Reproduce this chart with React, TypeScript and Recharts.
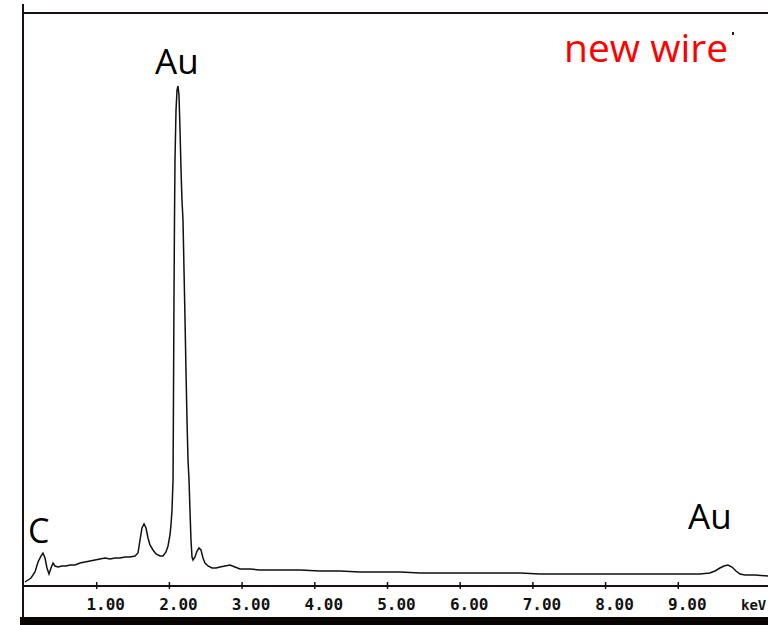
import React from "react";
import { LineChart, Line, XAxis, YAxis, Customized } from "recharts";

// Energy (keV) and intensity (arbitrary counts, main Au peak = 100)
const energyKeV = [
  0.014, 0.055, 0.096, 0.151, 0.193, 0.234, 0.261, 0.289, 0.316, 0.344, 0.371, 0.399, 0.426, 0.468,
  0.523, 0.578, 0.633, 0.702, 0.77, 0.839, 0.908, 0.977, 1.045, 1.114, 1.183, 1.252, 1.32, 1.389,
  1.458, 1.527, 1.568, 1.596, 1.623, 1.651, 1.678, 1.706, 1.733, 1.774, 1.816, 1.871, 1.912, 1.953,
  1.981, 2.008, 2.022, 2.036, 2.05, 2.056, 2.063, 2.07, 2.077, 2.091, 2.105, 2.118, 2.132, 2.146,
  2.16, 2.173, 2.187, 2.201, 2.215, 2.228, 2.242, 2.256, 2.27, 2.283, 2.297, 2.311, 2.325, 2.352,
  2.38, 2.407, 2.435, 2.462, 2.49, 2.531, 2.586, 2.641, 2.696, 2.765, 2.834, 2.902, 2.971, 3.109,
  3.246, 3.521, 3.796, 4.072, 4.347, 4.622, 4.897, 5.172, 5.447, 5.722, 5.997, 6.272, 6.548, 6.823,
  7.098, 7.373, 7.648, 7.923, 8.198, 8.473, 8.748, 9.023, 9.298, 9.433, 9.505, 9.573, 9.628, 9.683,
  9.739, 9.794, 9.849, 9.917, 10.055, 10.234,
];
const counts = [
  0.8, 1.2, 1.6, 2.8, 4.8, 6.0, 6.6, 5.6, 3.6, 2.4, 3.6, 4.6, 4.0, 3.8,
  4.0, 4.0, 4.2, 4.2, 4.6, 4.8, 5.0, 5.2, 5.4, 5.6, 5.4, 5.6, 5.6, 5.8,
  5.8, 6.0, 6.6, 9.2, 11.6, 12.4, 11.6, 9.6, 8.2, 7.2, 6.4, 6.0, 6.0, 6.8,
  8.0, 10.2, 12.2, 15.2, 21.2, 37.2, 57.2, 73.2, 85.2, 95.2, 99.2, 100, 98.2, 91.2,
  83.2, 77.2, 73.2, 63.2, 53.2, 43.2, 33.2, 25.2, 21.2, 15.2, 9.2, 5.8, 5.2, 5.8,
  7.0, 7.6, 7.2, 5.6, 4.6, 4.0, 3.6, 3.6, 3.8, 4.0, 4.2, 3.8, 3.4, 3.4,
  3.2, 3.2, 3.2, 3.0, 3.0, 2.8, 2.8, 2.8, 2.6, 2.6, 2.6, 2.6, 2.6, 2.6,
  2.4, 2.4, 2.4, 2.4, 2.4, 2.4, 2.4, 2.4, 2.4, 2.6, 3.0, 3.6, 4.0, 4.2,
  3.8, 3.0, 2.4, 2.2, 2.2, 2.0,
];
const tickValues = [1, 2, 3, 4, 5, 6, 7, 8, 9, 10];
const tickLabels = ["1.00", "2.00", "3.00", "4.00", "5.00", "6.00", "7.00", "8.00", "9.00", "keV"];

const data = energyKeV.map((e, i) => ({ e, c: counts[i] }));

const Tick = (props: any) => {
  const { x, y, payload } = props;
  const idx = tickValues.indexOf(payload.value);
  const label = tickLabels[idx];
  const textStyle = {
    fontFamily: "'DejaVu Sans Mono', monospace",
    fontWeight: 700,
    fontSize: 16,
    fill: "#111",
  };
  if (label === "keV") {
    return (
      <text x={x - 10} y={y + 24} textAnchor="start" style={{ ...textStyle, fontSize: 14 }}>
        {label}
      </text>
    );
  }
  return (
    <g>
      <line x1={x} x2={x} y1={y - 4} y2={y + 3} stroke="#111" strokeWidth={1.5} />
      <text x={x + 9} y={y + 24} textAnchor="middle" style={textStyle}>
        {label}
      </text>
    </g>
  );
};

const Overlay = () => {
  const font = "'Open Sans', 'Noto Sans', sans-serif";
  return (
    <g>
      <line x1={23} x2={23} y1={4} y2={620} stroke="#1a1010" strokeWidth={2} />
      <line x1={23} x2={768} y1={13} y2={13} stroke="#1a1010" strokeWidth={2} />
      <rect x={20} y={617} width={748} height={8} fill="#0a0505" />
      <text x={155} y={74} style={{ fontFamily: font, fontSize: 35, fill: "#000" }}>Au</text>
      <text x={28} y={543} style={{ fontFamily: font, fontSize: 34, fill: "#000" }}>C</text>
      <text x={688} y={529} style={{ fontFamily: font, fontSize: 35, fill: "#000" }}>Au</text>
      <text x={564} y={62} style={{ fontFamily: font, fontSize: 39, fill: "#ff0000" }}>new wire</text>
      <rect x={732} y={32} width={2} height={3} fill="#222" />
    </g>
  );
};

export default function App() {
  return (
    <div style={{ position: "absolute", left: 0, top: 0, width: 768, height: 625, background: "#fff" }}>
      <LineChart
        width={768}
        height={625}
        data={data}
        margin={{ top: 36, right: 0, bottom: 9, left: 24 }}
      >
        <XAxis
          dataKey="e"
          type="number"
          domain={[0, 10.234]}
          ticks={tickValues}
          interval={0}
          height={30}
          tickLine={false}
          tickSize={0}
          tickMargin={0}
          axisLine={{ stroke: "#1a1010", strokeWidth: 2 }}
          tick={<Tick />}
          allowDataOverflow
        />
        <YAxis hide domain={[0, 110]} type="number" allowDataOverflow />
        <Line
          dataKey="c"
          type="linear"
          stroke="#111"
          strokeWidth={1.5}
          dot={false}
          isAnimationActive={false}
        />
        <Customized component={<Overlay />} />
      </LineChart>
    </div>
  );
}
